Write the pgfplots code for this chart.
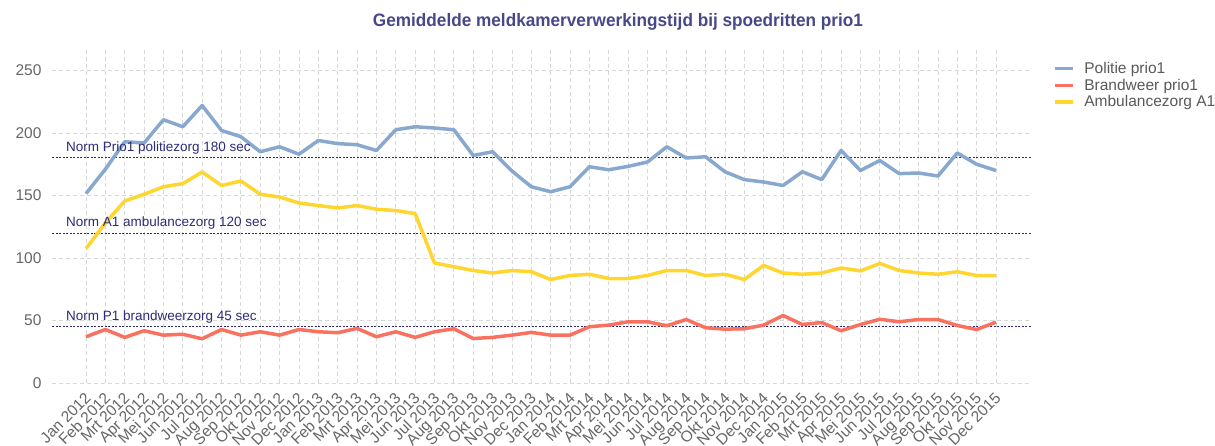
\documentclass[border=0pt]{standalone}
\usepackage{pgfplots}
\pgfplotsset{compat=1.18}
\usepackage{pgfplotstable}
\usepackage{fontspec}
\setmainfont{Liberation Sans}
\usepackage{graphicx}
\definecolor{politie}{HTML}{88A8CF}
\definecolor{brand}{HTML}{F9715F}
\definecolor{amb}{HTML}{FFD530}
\definecolor{normc}{HTML}{2B2B78}
\definecolor{titlec}{HTML}{484888}
\definecolor{tickc}{HTML}{666666}
\definecolor{gridc}{HTML}{D8D8D8}

\pgfplotstableread{
x pol brw amb
0 151.5 37 107.5
1 171 42.8 128
2 193 36.5 145.6
3 192 41.8 151
4 210.6 38.3 157
5 205 39 159.5
6 222 35.4 168.8
7 202 42.8 158
8 197 38.3 161.6
9 185 41 151
10 189 38.3 148.8
11 183 42.8 144
12 194 41 142
13 191.5 40.2 140
14 190.6 43.7 142
15 186 37 139
16 202.6 41 138
17 205 36.5 135.5
18 204 41 96
19 202.6 43.4 93
20 182 35.6 90
21 185 36.5 88
22 169.6 38.3 90
23 157 40.5 89
24 153 38.3 82.8
25 157 38.3 86
26 173 45 87
27 170.6 46.3 83.6
28 173.3 49 83.6
29 176.8 49 86
30 189 45.8 90
31 180 50.8 90
32 181 44.2 86
33 169 43.1 87
34 162.7 43.4 82.8
35 160.8 46.3 94
36 158 54 88
37 169 46.8 87
38 162.7 48.4 88
39 186 41.8 92
40 170 46.8 89.7
41 178 51 95.6
42 167.5 49 90
43 168 50.8 88
44 165.6 50.8 87
45 184 46 89
46 175 42.8 86
47 170 48.7 86
}\data

\begin{document}
\begin{tikzpicture}
\useasboundingbox (0,0) rectangle (1215pt,445pt);
\node[text=titlec, font=\fontsize{18}{20}\selectfont\bfseries] at (618pt,423pt)
  {\resizebox{490pt}{\height}{Gemiddelde meldkamerverwerkingstijd bij spoedritten prio1}};
\begin{axis}[
  at={(52pt,62pt)}, anchor=south west,
  scale only axis, width=980pt, height=335pt,
  xmin=-1.756, xmax=48.86, ymin=0, ymax=268,
  xtick={0,...,47},
  xticklabels={Jan 2012,Feb 2012,Mrt 2012,Apr 2012,Mei 2012,Jun 2012,Jul 2012,Aug 2012,Sep 2012,Okt 2012,Nov 2012,Dec 2012,
               Jan 2013,Feb 2013,Mrt 2013,Apr 2013,Mei 2013,Jun 2013,Jul 2013,Aug 2013,Sep 2013,Okt 2013,Nov 2013,Dec 2013,
               Jan 2014,Feb 2014,Mrt 2014,Apr 2014,Mei 2014,Jun 2014,Jul 2014,Aug 2014,Sep 2014,Okt 2014,Nov 2014,Dec 2014,
               Jan 2015,Feb 2015,Mrt 2015,Apr 2015,Mei 2015,Jun 2015,Jul 2015,Aug 2015,Sep 2015,Okt 2015,Nov 2015,Dec 2015},
  ytick={0,50,...,250},
  grid=major,
  grid style={gridc, dash pattern=on 4pt off 3pt, line width=0.8pt},
  axis line style={draw=none},
  major tick length=0pt,
  tick style={draw=none},
  /pgf/number format/assume math mode=true,
  ticklabel style={font=\fontsize{15.5}{17}\selectfont, text=tickc},
  xticklabel style={xshift=-2pt, yshift=-7pt, rotate=45, anchor=north east, inner sep=1pt},
  yticklabel style={xshift=-7pt},
  legend cell align=left,
  legend image code/.code={\draw[#1] (0pt,0pt) -- (18pt,0pt); \path (26pt,0pt);},
  legend style={draw=none, fill=none, at={(rel axis cs:1.018,0.97)}, anchor=north west,
                font=\fontsize{15.5}{17}\selectfont, text=black!65, row sep=0pt},
  clip=false,
]
\addplot[normc, line width=1pt, dash pattern=on 2pt off 1.5pt, forget plot] coordinates {(-1.756,180) (48.86,180)};
\addplot[normc, line width=1pt, dash pattern=on 2pt off 1.5pt, forget plot] coordinates {(-1.756,120) (48.86,120)};
\addplot[normc, line width=1pt, dash pattern=on 2pt off 1.5pt, forget plot] coordinates {(-1.756,45) (48.86,45)};
\addplot[politie, line width=3.5pt, line join=round] table[x=x, y=pol] {\data};
\addlegendentry{Politie prio1}
\addplot[brand, line width=3.5pt, line join=round] table[x=x, y=brw] {\data};
\addlegendentry{Brandweer prio1}
\addplot[amb, line width=3.5pt, line join=round] table[x=x, y=amb] {\data};
\addlegendentry{Ambulancezorg A1}
\node[anchor=south west, text=normc, font=\fontsize{13.5}{15}\selectfont, inner sep=1pt] at (axis cs:-1.085,182) {Norm Prio1 politiezorg 180 sec};
\node[anchor=south west, text=normc, font=\fontsize{13.5}{15}\selectfont, inner sep=1pt] at (axis cs:-1.085,122) {Norm A1 ambulancezorg 120 sec};
\node[anchor=south west, text=normc, font=\fontsize{13.5}{15}\selectfont, inner sep=1pt] at (axis cs:-1.085,47) {Norm P1 brandweerzorg 45 sec};
\end{axis}
\end{tikzpicture}
\end{document}
